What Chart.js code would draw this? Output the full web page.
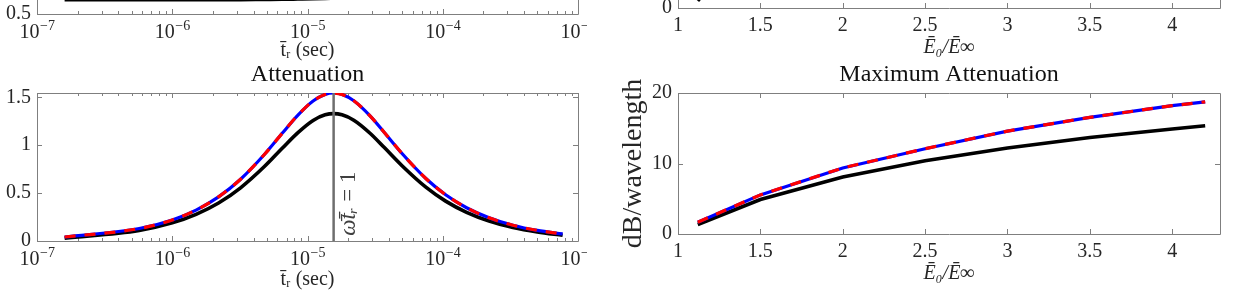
<!DOCTYPE html>
<html>
<head>
<meta charset="utf-8">
<script src="https://cdn.jsdelivr.net/npm/chart.js@4.4.1/dist/chart.umd.min.js"></script>
<style>
html, body { margin: 0; padding: 0; background: #fff; }
body { width: 1234px; height: 303px; position: relative; overflow: hidden; }
canvas { position: absolute; }
</style>
</head>
<body>
<canvas id="tl" width="620" height="235" style="left:0px;top:-170px"></canvas>
<canvas id="bl" width="620" height="243" style="left:0px;top:60px"></canvas>
<canvas id="tr" width="647" height="230" style="left:587px;top:-170px"></canvas>
<canvas id="br" width="647" height="243" style="left:587px;top:60px"></canvas>
<script>
// relaxation time sweep (sec)
const trTimes = [1.6e-7, 5.7e-7, 1e-6, 1.5e-6, 2.2e-6, 3.2e-6, 4.8e-6, 6.5e-6, 8.5e-6, 1.1e-5, 1.35e-5, 1.56e-5,
                 1.8e-5, 2.2e-5, 2.9e-5, 3.7e-5, 5e-5, 7.5e-5, 1.05e-4, 1.5e-4, 2.2e-4, 3.3e-4, 5e-4, 7.7e-4];
const attenExact = [0.042, 0.13, 0.22, 0.323, 0.461, 0.645, 0.903, 1.124, 1.315, 1.462, 1.53, 1.545,
                    1.53, 1.464, 1.307, 1.133, 0.913, 0.652, 0.483, 0.347, 0.242, 0.165, 0.111, 0.074];
const attenApprox = [0.03, 0.11, 0.189, 0.278, 0.396, 0.555, 0.777, 0.968, 1.132, 1.259, 1.317, 1.33,
                     1.317, 1.261, 1.125, 0.975, 0.786, 0.562, 0.416, 0.299, 0.208, 0.142, 0.095, 0.06];
const trMark = 1.56e-5;   // omega * t_r = 1

// modulus ratio E0/Einf
const ratioE = [1.12, 1.5, 2, 2.5, 3, 3.5, 4, 4.2];
const maxAttenExact = [1.67, 5.55, 9.37, 12.1, 14.6, 16.55, 18.2, 18.75];
const maxAttenApprox = [1.35, 4.9, 8.1, 10.4, 12.2, 13.7, 14.9, 15.35];

// panels above, only their bottom edge is in view
const topLeftVals = [0.548, 0.548, 0.548, 0.548, 0.548, 0.5483, 0.549, 0.5495, 0.5505, 0.5515, 0.5525, 0.5535,
                     0.5545, 0.556, 0.559, 0.563, 0.57, 0.58, 0.595, 0.61, 0.625, 0.64, 0.65, 0.66];
const topRightVals = [0.05, 0.55, 0.7, 0.78, 0.83, 0.87, 0.9, 0.91];

const logTicks = [1e-7, 1e-6, 1e-5, 1e-4, 1e-3];
const attenTicks = [0, 0.5, 1, 1.5];
const ratioTicks = [1, 1.5, 2, 2.5, 3, 3.5, 4];
const dbTicks = [0, 10, 20];

const serif = "'Liberation Serif', 'DejaVu Serif', serif";
const ink = '#262626';

function minorTicks(decades) {
    const out = [];
    for (let i = 0; i < decades.length - 1; i++)
        for (let k = 2; k <= 9; k++) out.push(decades[i] * k);
    return out;
}
function pts(xs, ys) {
    return xs.map((x, i) => ({x: x, y: ys[i]}));
}

// matlab style box with inward ticks
const boxPlugin = {
    id: 'box',
    beforeDatasetsDraw(chart, args, opts) {
        const {ctx, chartArea: a} = chart;
        const xs = chart.scales.x, ys = chart.scales.y;
        const r = v => Math.round(v) + 0.5;
        ctx.save();
        ctx.strokeStyle = '#7f7f7f';
        ctx.lineWidth = 1;
        ctx.beginPath();
        ctx.rect(r(a.left), r(a.top), Math.round(a.right) - Math.round(a.left), Math.round(a.bottom) - Math.round(a.top));
        const tickX = (v, len) => {
            const p = r(xs.getPixelForValue(v));
            ctx.moveTo(p, a.bottom); ctx.lineTo(p, a.bottom - len);
            ctx.moveTo(p, a.top); ctx.lineTo(p, a.top + len);
        };
        const tickY = (v, len) => {
            const p = r(ys.getPixelForValue(v));
            ctx.moveTo(a.left, p); ctx.lineTo(a.left + len, p);
            ctx.moveTo(a.right, p); ctx.lineTo(a.right - len, p);
        };
        xs.ticks.forEach(t => tickX(t.value, 5));
        (opts.minorX || []).forEach(v => tickX(v, 3));
        ys.ticks.forEach(t => tickY(t.value, 5));
        ctx.stroke();

        // 10^n labels under a log axis
        if (opts.decades) {
            const base = a.bottom + 24;
            ctx.fillStyle = ink;
            ctx.textBaseline = 'alphabetic';
            ctx.textAlign = 'left';
            xs.ticks.forEach(t => {
                const e = String(Math.round(Math.log10(t.value))).replace('-', '\u2212');
                ctx.font = '20px ' + serif;
                const w1 = ctx.measureText('10').width;
                ctx.font = '14px ' + serif;
                const w2 = ctx.measureText(e).width;
                const x0 = xs.getPixelForValue(t.value) - (w1 + w2) / 2;
                ctx.font = '20px ' + serif;
                ctx.fillText('10', x0, base);
                ctx.font = '14px ' + serif;
                ctx.fillText(e, x0 + w1 + 0.5, base - 8);
            });
        }
        ctx.restore();
    }
};
const paperPlugin = {
    id: 'paper',
    beforeDraw(chart, args, opts) {
        if (!opts.fill) return;
        const ctx = chart.ctx;
        ctx.save();
        ctx.fillStyle = '#fff';
        ctx.fillRect(0, 0, chart.width, chart.height);
        ctx.restore();
    }
};
Chart.register(boxPlugin, paperPlugin);

const omegaLabel = {
    id: 'omegaLabel',
    afterDatasetsDraw(chart) {
        const ctx = chart.ctx;
        const x = chart.scales.x.getPixelForValue(trMark) + 15;
        const y = chart.scales.y.getPixelForValue(0.39);
        const a = 'ω\u0304t\u0304ᵣ', b = ' = 1';
        ctx.save();
        ctx.translate(x, y);
        ctx.rotate(-Math.PI / 2);
        ctx.fillStyle = '#404040';
        ctx.textBaseline = 'middle';
        ctx.textAlign = 'left';
        ctx.font = 'italic 23px ' + serif;
        const wa = ctx.measureText(a).width;
        ctx.font = '23px ' + serif;
        const wb = ctx.measureText(b).width;
        const start = -(wa + wb) / 2;
        ctx.font = 'italic 23px ' + serif;
        ctx.fillText(a, start, 0);
        ctx.font = '23px ' + serif;
        ctx.fillText(b, start + wa, 0);
        ctx.restore();
    }
};

function xAxis(o) {
    return {
        type: o.type, min: o.min, max: o.max,
        grid: {display: false, drawTicks: false}, border: {display: false},
        afterBuildTicks: s => { s.ticks = o.ticks.map(v => ({value: v})); },
        ticks: {display: o.type !== 'logarithmic', autoSkip: false, maxRotation: 0, padding: 6, color: ink,
                font: {family: serif, size: 20}, callback: v => String(v)},
        title: {display: true, text: o.title, color: ink,
                font: {family: serif, size: 20, style: o.titleStyle || 'normal'},
                padding: {top: 0, bottom: o.titlePad}},
        afterFit: s => { s.height = o.height; s.paddingLeft = 0; s.paddingRight = 0; }
    };
}
function yAxis(o) {
    return {
        type: 'linear', min: o.min, max: o.max,
        grid: {display: false, drawTicks: false}, border: {display: false},
        afterBuildTicks: s => { s.ticks = o.ticks.map(v => ({value: v})); },
        ticks: {padding: 6, color: ink, font: {family: serif, size: 20}, callback: v => String(v)},
        title: o.title ? {display: true, text: o.title, color: ink,
                          font: {family: serif, size: 28}, padding: {top: o.titlePad, bottom: 0}}
                       : {display: false},
        afterFit: s => { s.width = o.width; s.paddingTop = 0; s.paddingBottom = 0; }
    };
}
function line(data, color, width, order, dash) {
    return {data: data, borderColor: color, borderWidth: width, borderDash: dash || [],
            pointRadius: 0, fill: false, order: order};
}
function baseOptions(pad, title, extra) {
    return Object.assign({
        responsive: false, animation: false, devicePixelRatio: 1,
        layout: {autoPadding: false, padding: pad},
        plugins: {
            legend: {display: false}, tooltip: {enabled: false},
            title: title ? {display: true, text: title, fullSize: false, color: '#111',
                            font: {family: serif, size: 24, weight: 'normal'},
                            padding: {top: 0.1, bottom: 4.1}} : {display: false}
        }
    }, extra);
}

// top left (cut off)
const tlOpts = baseOptions({left: 0, right: 42, top: 36, bottom: 0}, null, {
    elements: {line: {cubicInterpolationMode: 'monotone'}},
    scales: {
        x: xAxis({type: 'logarithmic', min: 1e-7, max: 1e-3, ticks: logTicks,
                  title: 't\u0304ᵣ (sec)', titlePad: 2.5, height: 51}),
        y: yAxis({min: 0.5, max: 1, ticks: [0.5, 1], width: 37})
    }
});
tlOpts.plugins.box = {minorX: minorTicks(logTicks), decades: true};
new Chart(document.getElementById('tl'), {
    type: 'line',
    data: {datasets: [line(pts(trTimes, topLeftVals), '#000', 3.5, 1)]},
    options: tlOpts
});

// Attenuation
const blOpts = baseOptions({left: 0, right: 42, top: 0, bottom: 0}, 'Attenuation', {
    elements: {line: {cubicInterpolationMode: 'monotone'}},
    scales: {
        x: xAxis({type: 'logarithmic', min: 1e-7, max: 1e-3, ticks: logTicks,
                  title: 't\u0304ᵣ (sec)', titlePad: 11.5, height: 62}),
        y: yAxis({min: 0, max: 1.545, ticks: attenTicks, width: 37})
    }
});
blOpts.plugins.box = {minorX: minorTicks(logTicks), decades: true};
new Chart(document.getElementById('bl'), {
    type: 'line',
    data: {datasets: [
        line([{x: trMark, y: 0}, {x: trMark, y: 1.545}], '#6e6e6e', 2.5, 0),
        line(pts(trTimes, attenExact), '#ff0000', 3.2, 1, [11, 9]),
        line(pts(trTimes, attenExact), '#0000ff', 3.2, 2),
        line(pts(trTimes, attenApprox), '#000', 3.6, 3)
    ]},
    options: blOpts,
    plugins: [omegaLabel]
});

// top right (cut off)
const trOpts = baseOptions({left: 0, right: 14, top: 36, bottom: 0}, null, {
    scales: {
        x: xAxis({type: 'linear', min: 1, max: 4.29, ticks: ratioTicks,
                  title: 'Ē₀/Ē∞', titleStyle: 'italic', titlePad: 0, height: 52}),
        y: yAxis({min: 0, max: 1, ticks: [0, 0.5, 1], width: 91})
    }
});
trOpts.plugins.paper = {fill: true};
new Chart(document.getElementById('tr'), {
    type: 'line',
    data: {datasets: [line(pts(ratioE, topRightVals), '#000', 3.5, 1)]},
    options: trOpts
});

// Maximum Attenuation
const brOpts = baseOptions({left: 0, right: 14, top: 0, bottom: 0}, 'Maximum Attenuation', {
    scales: {
        x: xAxis({type: 'linear', min: 1, max: 4.29, ticks: ratioTicks,
                  title: 'Ē₀/Ē∞', titleStyle: 'italic', titlePad: 17, height: 69}),
        y: yAxis({min: 0, max: 20, ticks: dbTicks, width: 91, title: 'dB/wavelength', titlePad: 30})
    }
});
brOpts.plugins.paper = {fill: true};
new Chart(document.getElementById('br'), {
    type: 'line',
    data: {datasets: [
        line(pts(ratioE, maxAttenExact), '#ff0000', 3.2, 1, [11, 9]),
        line(pts(ratioE, maxAttenExact), '#0000ff', 3.2, 2),
        line(pts(ratioE, maxAttenApprox), '#000', 3.6, 3)
    ]},
    options: brOpts
});
</script>
</body>
</html>
